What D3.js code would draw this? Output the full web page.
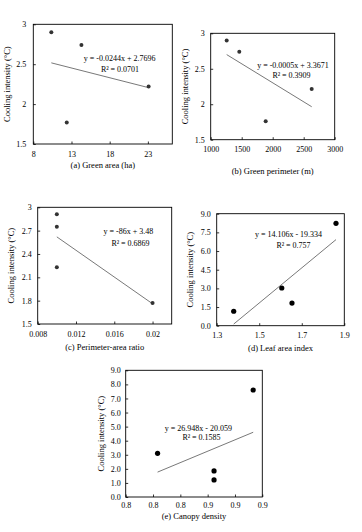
<!DOCTYPE html>
<html>
<head>
<meta charset="utf-8">
<script src="https://cdn.jsdelivr.net/npm/d3@7"></script>
<style>
  body { margin: 0; background: #fff; }
  svg { display: block; font-family: "Liberation Serif", "Times New Roman", serif; }
</style>
</head>
<body>
<div id="chart"></div>
<script>
// data (cooling intensity vs. green space metrics)
var areaX = [10.36, 12.38, 14.3, 23.1];
var areaY = [2.9, 1.77, 2.74, 2.22];
var perimX = [1258, 1887, 1461, 2629];
var perimY = [2.9, 1.76, 2.74, 2.215];
var ratioX = [0.01, 0.01, 0.01, 0.02];
var ratioY = [2.91, 2.75, 2.23, 1.77];
var laiX = [1.38, 1.606, 1.654, 1.861];
var laiY = [1.16, 3.03, 1.82, 8.23];
var canopyX = [0.81, 0.872, 0.872, 0.915];
var canopyY = [3.1, 1.85, 1.21, 7.6];

// linear trend lines (slope, intercept)
var fitSlope = [-0.0244, -0.000536, -86, 14.106, 26.948];
var fitIntercept = [2.7696, 3.374, 3.48, -19.334, -20.059];

// texts
var eqLabels = ["y = -0.0244x + 2.7696", "y = -0.0005x + 3.3671", "y = -86x + 3.48",
                "y = 14.106x - 19.334", "y = 26.948x - 20.059"];
var r2Labels = ["R² = 0.0701", "R² = 0.3909", "R² = 0.6869", "R² = 0.757", "R² = 0.1585"];
var xTitles = ["(a) Green area (ha)", "(b) Green perimeter (m)", "(c) Perimeter-area ratio",
               "(d) Leaf area index", "(e) Canopy density"];
var yTitle = "Cooling intensity (°C)";

// axis ranges and ticks
var xDomains = [[8, 26.2], [1000, 3000], [0.008, 0.022], [1.3, 1.9], [0.775, 0.925]];
var yDomains = [[1.5, 3], [1.5, 3], [1.5, 3], [0, 9], [0, 9]];
var xTicks = [[8, 13, 18, 23], [1000, 1500, 2000, 2500, 3000], [0.008, 0.012, 0.016, 0.02],
              [1.3, 1.5, 1.7, 1.9], [0.775, 0.805, 0.835, 0.865, 0.895, 0.925]];
var yTicks = [[1.5, 2, 2.5, 3], [1.5, 2, 2.5, 3], [1.5, 1.8, 2.1, 2.4, 2.7, 3],
              [0, 1.5, 3, 4.5, 6, 7.5, 9], [0, 1, 2, 3, 4, 5, 6, 7, 8, 9]];
var xTickText = [null, null, null, null, ["0.8", "0.8", "0.8", "0.9", "0.9", "0.9"]];
var xFormats = [d3.format("d"), d3.format("d"), function(d) { return d3.format("~g")(+d.toFixed(3)); },
                d3.format(".1f"), null];
var yFormats = [d3.format("~g"), d3.format("~g"), d3.format("~g"), d3.format(".1f"), d3.format(".1f")];

var dataX = [areaX, perimX, ratioX, laiX, canopyX];
var dataY = [areaY, perimY, ratioY, laiY, canopyY];

// layout of each panel on the page
var layout = [
  {box: [33.3, 24.3, 172.3, 144], yt: 8, xtY: 166, xpad: 7, eq: [119.7, 58.7], r2: [120, 70], ypad: 7, dot: 2, dotFill: "#333"},
  {box: [210.7, 33.3, 334.7, 139.7], yt: 186, xtY: 172, xpad: 7, eq: [293, 65.7], r2: [291.5, 76.3], ypad: 6, dot: 2, dotFill: "#333"},
  {box: [37.7, 207.3, 171.7, 324], yt: 12.5, xtY: 348, xpad: 7, eq: [128.3, 232.3], r2: [130.5, 243.7], ypad: 6, dot: 2, dotFill: "#333"},
  {box: [216.7, 213.7, 344.3, 325.7], yt: 191, xtY: 349.5, xpad: 7, eq: [288.5, 235], r2: [293.5, 246.3], ypad: 6, dot: 2.6, dotFill: "#000"},
  {box: [125.7, 370.3, 262.3, 497], yt: 102.5, xtY: 517, xpad: 5.5, eq: [198.3, 428.7], r2: [201.5, 438.3], ypad: 5, dot: 2.6, dotFill: "#000"}
];

var W = 362, H = 532;
var svg = d3.select("#chart").append("svg")
    .attr("width", W)
    .attr("height", H);

layout.forEach(function(p, i) {
  var x0 = p.box[0], y0 = p.box[1], x1 = p.box[2], y1 = p.box[3];

  var x = d3.scaleLinear().domain(xDomains[i]).range([x0, x1]);
  var y = d3.scaleLinear().domain(yDomains[i]).range([y1, y0]);

  var g = svg.append("g");

  // x axis, ticks pointing in
  var xfmt = xFormats[i];
  if (xTickText[i]) {
    var names = xTickText[i];
    xfmt = function(d, k) { return names[k]; };
  }
  var xa = g.append("g")
      .attr("transform", "translate(0," + y1 + ")")
      .call(d3.axisBottom(x).tickValues(xTicks[i]).tickFormat(xfmt)
            .tickSizeInner(-2.5).tickSizeOuter(0).tickPadding(p.xpad));
  // y axis
  var ya = g.append("g")
      .attr("transform", "translate(" + x0 + ",0)")
      .call(d3.axisLeft(y).tickValues(yTicks[i]).tickFormat(yFormats[i])
            .tickSizeInner(-2.5).tickSizeOuter(0).tickPadding(p.ypad));

  [xa, ya].forEach(function(a) {
    a.select(".domain").remove();
    a.selectAll("line").attr("stroke", "#000").attr("stroke-width", 0.8);
    a.selectAll("text").attr("font-family", "Liberation Serif, serif")
      .attr("font-size", 8).attr("fill", "#000");
  });

  // plot border
  g.append("rect")
      .attr("x", x0).attr("y", y0)
      .attr("width", x1 - x0).attr("height", y1 - y0)
      .attr("fill", "none").attr("stroke", "#000").attr("stroke-width", 0.9);

  // trend line over the data range
  var xs = dataX[i];
  var lo = d3.min(xs), hi = d3.max(xs);
  var fit = function(v) { return fitSlope[i] * v + fitIntercept[i]; };
  g.append("line")
      .attr("x1", x(lo)).attr("y1", y(fit(lo)))
      .attr("x2", x(hi)).attr("y2", y(fit(hi)))
      .attr("stroke", "#555").attr("stroke-width", 0.8);

  // points
  g.selectAll(".dot")
      .data(xs.map(function(v, k) { return [v, dataY[i][k]]; }))
    .enter().append("circle")
      .attr("class", "dot")
      .attr("cx", function(d) { return x(d[0]); })
      .attr("cy", function(d) { return y(d[1]); })
      .attr("r", p.dot)
      .attr("fill", p.dotFill);

  // equation + R²
  g.append("text")
      .attr("x", p.eq[0]).attr("y", p.eq[1])
      .attr("text-anchor", "middle").attr("dominant-baseline", "middle")
      .attr("font-size", 8).text(eqLabels[i]);
  g.append("text")
      .attr("x", p.r2[0]).attr("y", p.r2[1])
      .attr("text-anchor", "middle").attr("dominant-baseline", "middle")
      .attr("font-size", 8).text(r2Labels[i]);

  // axis titles
  g.append("text")
      .attr("x", (x0 + x1) / 2).attr("y", p.xtY)
      .attr("text-anchor", "middle").attr("dominant-baseline", "middle")
      .attr("font-size", 8.5).text(xTitles[i]);
  g.append("text")
      .attr("transform", "translate(" + p.yt + "," + ((y0 + y1) / 2) + ") rotate(-90)")
      .attr("text-anchor", "middle").attr("dominant-baseline", "middle")
      .attr("font-size", 8.5).text(yTitle);
});
</script>
</body>
</html>
